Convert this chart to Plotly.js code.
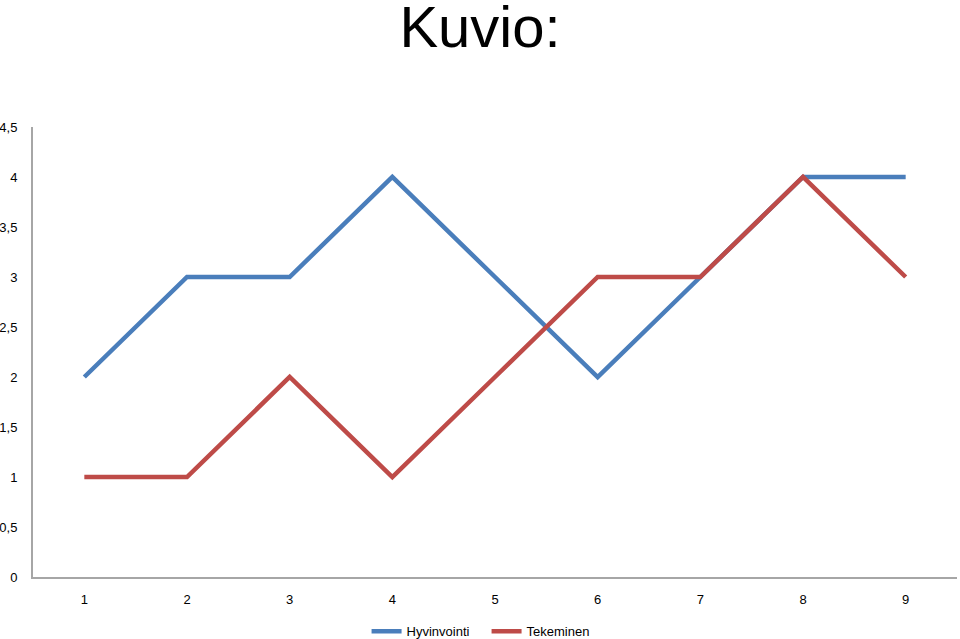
<!DOCTYPE html>
<html>
<head>
<meta charset="utf-8">
<script src="https://cdn.plot.ly/plotly-3.0.1.min.js"></script>
<style>html,body{margin:0;padding:0;background:#fff;}#chart{width:960px;height:639px;}</style>
</head>
<body>
<div id="chart"></div>
<script>
var categories = ["1","2","3","4","5","6","7","8","9"];
var hyvinvointi = [2,3,3,4,3,2,3,4,4];
var tekeminen = [1,1,2,1,2,3,3,4,3];
var seriesNames = ["Hyvinvointi","Tekeminen"];
var titleText = "Kuvio:";

var traces = [
  {x: categories, y: hyvinvointi, name: seriesNames[0], type: 'scatter', mode: 'lines',
   line: {color: '#4A7EBB', width: 4.5}},
  {x: categories, y: tekeminen, name: seriesNames[1], type: 'scatter', mode: 'lines',
   line: {color: '#BE4B48', width: 4.5}}
];
var layout = {
  width: 960, height: 639,
  margin: {l: 33, r: 3, t: 127, b: 62},
  separators: ',.',
  paper_bgcolor: '#fff', plot_bgcolor: '#fff',
  font: {family: 'Liberation Sans, Arial, sans-serif', size: 13, color: '#000'},
  title: {text: titleText, x: 0.5, xanchor: 'center', y: 0.99, yanchor: 'top',
          font: {size: 58, family: 'Liberation Sans, Arial, sans-serif', color: '#000'}},
  xaxis: {type: 'category', range: [-0.5, 8.5], showgrid: false, zeroline: false, showline: true,
          linecolor: '#A6A6A6', linewidth: 2, ticks: 'outside', ticklen: 9,
          tickcolor: 'rgba(0,0,0,0)', tickfont: {size: 13}, automargin: false},
  yaxis: {range: [0, 4.5], dtick: 0.5, tick0: 0, showgrid: false, zeroline: false,
          showline: true, linecolor: '#A6A6A6', linewidth: 2, ticks: 'outside',
          ticklen: 11, tickcolor: 'rgba(0,0,0,0)', tickfont: {size: 13}, automargin: false},
  showlegend: true,
  legend: {orientation: 'h', x: 0.361, xanchor: 'left', yref: 'container', y: 0.012, yanchor: 'middle',
           font: {size: 13}, itemwidth: 30, tracegroupgap: 0,
           entrywidth: 75, entrywidthmode: 'pixels'}
};
Plotly.newPlot('chart', traces, layout, {displayModeBar: false, staticPlot: true});
</script>
</body>
</html>
